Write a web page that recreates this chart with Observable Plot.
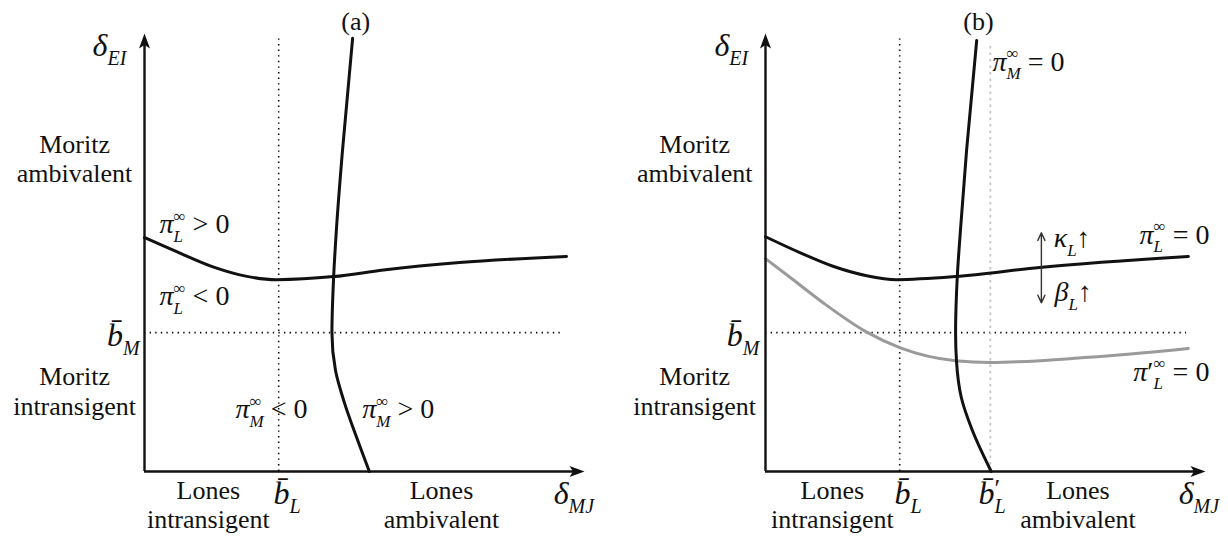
<!DOCTYPE html>
<html>
<head>
<meta charset="utf-8">
<script src="https://cdn.jsdelivr.net/npm/d3@7"></script>
<script src="https://cdn.jsdelivr.net/npm/@observablehq/plot@0.6"></script>
<style>
  body { margin: 0; background: #fff; }
  #wrap { display: flex; width: 1228px; height: 538px; background: #fff; }
  #wrap svg, #wrap svg text { font-family: "Liberation Serif", "DejaVu Serif", serif !important; }
  text { white-space: pre; }
</style>
</head>
<body>
<div id="wrap"></div>
<script>
// ---------- data (abstract model units: δ_MJ horizontally, δ_EI vertically) ----------
const X_MAX = 10;           // end of δ_MJ axis
const Y_MAX = 10;           // end of δ_EI axis
const bLbar = 3.05;         // threshold \bar b_L
const bMbar = 3.17;         // threshold \bar b_M
const bLprime = 5.11;       // threshold \bar b'_L (panel b)

// panel (a) curves (π_M listed bottom to top)
const piM_a = [[5.11,0],[4.82,0.78],[4.55,1.55],[4.34,2.31],[4.26,3.17],[4.30,4.47],[4.36,5.50],[4.50,7.33],[4.73,9.89]];
const piL_a = [[0,5.34],[0.82,4.98],[1.59,4.66],[2.30,4.46],[3.0,4.38],[4.30,4.45],[5.43,4.60],[7.16,4.77],[9.59,4.91]];
// panel (b) curves
const piM_b = [[5.13,0],[4.70,0.94],[4.45,1.69],[4.34,2.53],[4.32,3.17],[4.36,4.47],[4.43,5.50],[4.57,7.33],[4.80,9.84]];
const piL_b = [[0,5.36],[0.82,4.98],[1.55,4.68],[2.30,4.47],[2.98,4.38],[4.32,4.45],[6.23,4.66],[9.61,4.91]];
const piLprime_b = [[0,4.86],[0.6,4.40],[1.3,3.86],[2.27,3.20],[3.05,2.83],[4.32,2.53],[5.11,2.49],[7.25,2.60],[9.61,2.81]];
// shift arrows κ_L↑ / β_L↑
const shiftArrows = [
  {x1: 6.27, y1: 4.66, x2: 6.27, y2: 5.45},
  {x1: 6.27, y1: 4.66, x2: 6.27, y2: 3.85}
];

// labels
const wordsA = [
  {t: "(a)", x: 4.80, y: 10.30},
  {t: "Moritz\nambivalent", x: -1.59, y: 7.15},
  {t: "Moritz\nintransigent", x: -1.59, y: 1.85},
  {t: "Lones\nintransigent", x: 1.45, y: -0.75},
  {t: "Lones\nambivalent", x: 6.75, y: -0.75}
];
const axisLabA = [
  {t: "δ_{EI}", x: -1.18, y: 9.73},
  {t: "δ_{MJ}", x: 9.30, y: -0.50},
  {t: "b̄_{L}", x: 2.93, y: -0.50}
];
const axisLabEndA = [ {t: "b̄_{M}", x: -0.11, y: 3.11} ];
const mathA = [
  {t: "π^{∞}_{L} > 0", x: 0.34, y: 5.64},
  {t: "π^{∞}_{L} < 0", x: 0.34, y: 4.00},
  {t: "π^{∞}_{M} < 0", x: 2.07, y: 1.42},
  {t: "π^{∞}_{M} > 0", x: 4.95, y: 1.42}
];

const wordsB = [
  {t: "(b)", x: 4.84, y: 10.30},
  {t: "Moritz\nambivalent", x: -1.61, y: 7.15},
  {t: "Moritz\nintransigent", x: -1.61, y: 1.85},
  {t: "Lones\nintransigent", x: 1.52, y: -0.75},
  {t: "Lones\nambivalent", x: 7.10, y: -0.75}
];
const axisLabB = [
  {t: "δ_{EI}", x: -1.16, y: 9.73},
  {t: "δ_{MJ}", x: 9.39, y: -0.50},
  {t: "b̄_{L}", x: 2.93, y: -0.50},
  {t: "b̄^{′}_{L}", x: 4.84, y: -0.50}
];
const axisLabEndB = [ {t: "b̄_{M}", x: -0.14, y: 3.11} ];
const mathB = [
  {t: "π^{∞}_{M} = 0", x: 5.16, y: 9.36},
  {t: "κ_{L}↑", x: 6.55, y: 5.32},
  {t: "π^{∞}_{L} = 0", x: 8.50, y: 5.41},
  {t: "β_{L}↑", x: 6.57, y: 4.09},
  {t: "π′^{∞}_{L} = 0", x: 8.36, y: 2.28}
];

// ---------- drawing ----------
const INK = "#111";
const FONT = "Liberation Serif";
const dart = {
  draw(ctx, size) {
    const r = Math.sqrt(size / Math.PI);
    const k = r / 6;
    ctx.moveTo(0, -9 * k);
    ctx.lineTo(5.5 * k, 6 * k);
    ctx.lineTo(0, 2.5 * k);
    ctx.lineTo(-5.5 * k, 6 * k);
    ctx.closePath();
  }
};
const px = d => d[0], py = d => d[1];

function drawPanel(p) {
  const marks = [
    Plot.ruleX([bLbar], {y1: 0, y2: 9.9, stroke: INK, strokeWidth: 1.6, strokeDasharray: "1.4 4.2"}),
    Plot.ruleY([bMbar], {x1: 0, x2: p.guideRight, stroke: INK, strokeWidth: 1.6, strokeDasharray: "1.4 4.2"})
  ];
  if (p.extraGuide) {
    marks.push(Plot.ruleX([bLprime], {y1: 0, y2: 9.79, stroke: "#c4c4c4", strokeWidth: 1.8, strokeDasharray: "2.5 4"}));
  }
  if (p.gray) {
    marks.push(Plot.line(p.gray, {x: px, y: py, curve: "monotone-x", stroke: "#9a9a9a", strokeWidth: 3}));
  }
  marks.push(
    Plot.line(p.hCurve, {x: px, y: py, curve: "monotone-x", stroke: INK, strokeWidth: 3}),
    Plot.line(p.vCurve, {x: px, y: py, curve: "monotone-y", stroke: INK, strokeWidth: 3}),
    Plot.ruleX([0], {y1: 0, y2: Y_MAX - 0.25, stroke: INK, strokeWidth: 2.4}),
    Plot.ruleY([0], {x1: 0, x2: X_MAX - 0.25, stroke: INK, strokeWidth: 2.4}),
    Plot.dot([[0, Y_MAX]], {x: px, y: py, symbol: dart, r: 6, fill: INK, stroke: "none", dy: 9}),
    Plot.dot([[X_MAX, 0]], {x: px, y: py, symbol: dart, r: 6, fill: INK, stroke: "none", rotate: 90, dx: -9})
  );
  if (p.arrows) {
    marks.push(Plot.arrow(p.arrows, {x1: "x1", y1: "y1", x2: "x2", y2: "y2", stroke: "#333", strokeWidth: 1.4, headLength: 9, headAngle: 50}));
  }
  marks.push(
    Plot.text(p.words, {x: "x", y: "y", text: "t", fontFamily: FONT, fontSize: 26, lineHeight: 1.13, textAnchor: "middle", fill: INK}),
    Plot.text(p.axisLab, {x: "x", y: "y", text: "t", fontFamily: FONT, fontSize: 32, textAnchor: "start", fill: INK}),
    Plot.text(p.axisLabEnd, {x: "x", y: "y", text: "t", fontFamily: FONT, fontSize: 32, textAnchor: "end", fill: INK}),
    Plot.text(p.math, {x: "x", y: "y", text: "t", fontFamily: FONT, fontSize: 28, textAnchor: "start", fill: INK})
  );
  const svg = Plot.plot({
    width: 614, height: 538,
    marginLeft: p.marginLeft, marginRight: p.marginRight, marginTop: 33, marginBottom: 67,
    x: {domain: [0, X_MAX], axis: null},
    y: {domain: [0, Y_MAX], axis: null},
    style: {background: "white", overflow: "visible"},
    marks
  });
  svg.setAttribute("font-family", FONT);
  return svg;
}

// turn "π^{∞}_{L} > 0" style strings into tspans with super/subscripts
function mathify(svg) {
  const ns = "http://www.w3.org/2000/svg";
  svg.querySelectorAll("text").forEach(t => {
    const s = t.textContent;
    if (!/[\^_]\{/.test(s)) return;
    const g = t.closest("g");
    const base = parseFloat((g && g.getAttribute("font-size")) || 25);
    t.textContent = "";
    let shift = 0, prevSup = null, pendingDx = 0;
    const make = (str, size, dyv, dxv, italic) => {
      const ts = document.createElementNS(ns, "tspan");
      ts.textContent = str;
      ts.setAttribute("font-size", size);
      ts.setAttribute("font-style", italic ? "italic" : "normal");
      if (dyv) ts.setAttribute("dy", dyv);
      if (dxv) ts.setAttribute("dx", dxv);
      t.appendChild(ts);
      return ts;
    };
    const isLetter = /[A-Za-z\u0370-\u03FF][\u0300-\u036f]*/;
    const runs = str => str.match(/[A-Za-z\u0370-\u03FF][\u0300-\u036f]*|[^A-Za-z\u0370-\u03FF]+/g) || [];
    const re = /([\^_])\{([^}]*)\}|([^\^_]+)/g;
    let m;
    while ((m = re.exec(s))) {
      if (m[3]) {
        runs(m[3]).forEach(r => {
          make(r, base, -shift, pendingDx, isLetter.test(r));
          shift = 0; pendingDx = 0;
        });
        prevSup = null;
      } else {
        const sup = m[1] === "^";
        const size = Math.round(base * (sup && m[2] === "′" ? 0.8 : 0.62));
        const target = sup ? (m[2] === "′" ? -0.2 : -0.42) * base : 0.3 * base;
        const italic = /[A-Za-z\u0370-\u03FF]/.test(m[2]);
        const ts = make(m[2], size, target - shift, pendingDx, italic);
        pendingDx = 0;
        shift = target;
        if (!sup && prevSup) {
          const wSup = prevSup.getComputedTextLength();
          ts.setAttribute("dx", -wSup);
          const wSub = ts.getComputedTextLength();
          pendingDx = Math.max(0, wSup - wSub);
        }
        prevSup = sup ? ts : null;
      }
    }
  });
}

const wrap = document.getElementById("wrap");
const svgA = drawPanel({
  marginLeft: 144, marginRight: 30, guideRight: 9.52,
  vCurve: piM_a, hCurve: piL_a,
  words: wordsA, axisLab: axisLabA, axisLabEnd: axisLabEndA, math: mathA
});
const svgB = drawPanel({
  marginLeft: 151, marginRight: 23, guideRight: 9.57, extraGuide: true,
  vCurve: piM_b, hCurve: piL_b, gray: piLprime_b, arrows: shiftArrows,
  words: wordsB, axisLab: axisLabB, axisLabEnd: axisLabEndB, math: mathB
});
wrap.appendChild(svgA);
wrap.appendChild(svgB);
mathify(svgA);
mathify(svgB);
</script>
</body>
</html>
